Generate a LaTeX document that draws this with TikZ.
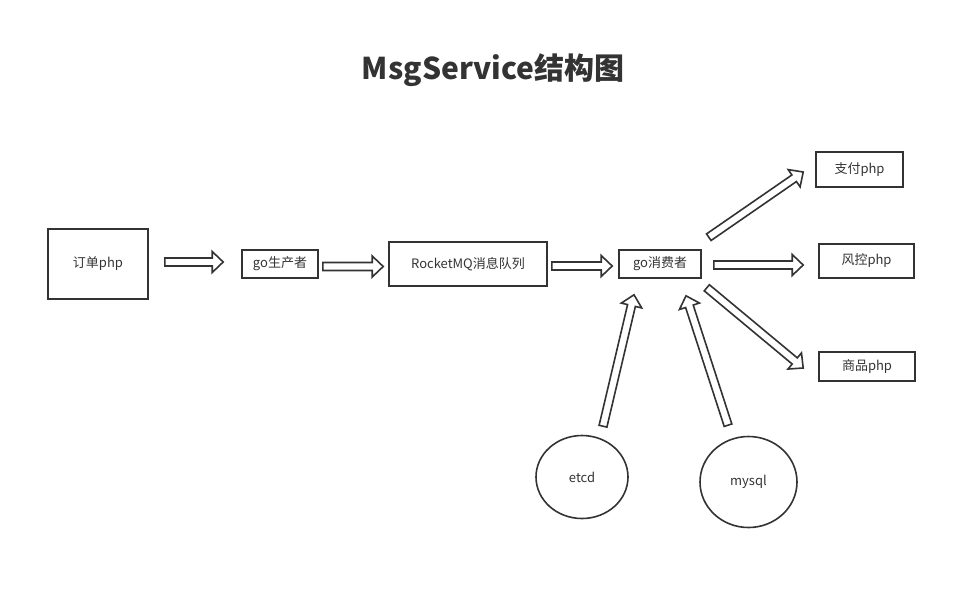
\documentclass[tikz,border=0pt]{standalone}
\usepackage{fontspec}
\setmainfont{Noto Sans CJK SC}
\usetikzlibrary{calc,shapes.geometric}
\definecolor{ink}{HTML}{333333}
\newcommand{\fatarrow}[2]{%
  \path #1 coordinate (fs) #2 coordinate (ft) ($(ft)!11pt!(fs)$) coordinate (fb);
  \draw[fat] ($(fs)!4pt!90:(ft)$) -- ($(fb)!4pt!90:(ft)$) -- ($(fb)!10.5pt!90:(ft)$) -- (ft)
    -- ($(fb)!10.5pt!-90:(ft)$) -- ($(fb)!4pt!-90:(ft)$) -- ($(fs)!4pt!-90:(ft)$) -- cycle;
}
\begin{document}
\begin{tikzpicture}[x = 1pt, y = -1pt,
            every node/.style = {text=ink, font=\fontsize{13}{15}\selectfont},
            box/.style = {draw=ink, line width=1.6pt, inner sep=0pt},
            store/.style = {ellipse, draw=ink, line width=1.6pt, inner sep=0pt},
            fat/.style = {draw=ink, line width=1.6pt, fill=white}]
            \useasboundingbox (0,0) rectangle (976,589);
            \node (title) at (493,70) {\fontsize{30}{35}\selectfont\bfseries MsgService结构图};
            % main line
            \node[box, minimum width=100, minimum height=70] (order) at (98,264) {订单php};
            \node[box, minimum width=76, minimum height=28] (prod) at (280,264) {go生产者};
            \node[box, minimum width=158, minimum height=44] (mq) at (468,264) {RocketMQ消息队列};
            \node[box, minimum width=82, minimum height=28] (cons) at (660,264) {go消费者};
            % consumers
            \node[box, minimum width=87, minimum height=35] (pay) at (859.5,169.5) {支付php};
            \node[box, minimum width=95, minimum height=34] (risk) at (866.5,261) {风控php};
            \node[box, minimum width=96, minimum height=29] (goods) at (867,366.5) {商品php};
            % config and data
            \node[store, minimum width=92, minimum height=83] (etcd) at (582,477) {etcd};
            \node[store, minimum width=97, minimum height=91] (mysql) at (748.5,482) {mysql};
            \fatarrow{($(order.east)+(16,-2)$)}{($(prod.west)+(-18,-2)$)}
            \fatarrow{($(prod.east)+(4,2.5)$)}{($(mq.west)+(-5,2.5)$)}
            \fatarrow{($(mq.east)+(4,2)$)}{($(cons.west)+(-6,2)$)}
            \fatarrow{($(cons.north east)+(7,-12)$)}{($(pay.west)+(-12,2.5)$)}
            \fatarrow{($(cons.east)+(12,1)$)}{($(risk.west)+(-15,4)$)}
            \fatarrow{($(cons.south east)+(5,9)$)}{($(goods.west)+(-15,1.5)$)}
            \fatarrow{($(etcd.north)+(21,-8.5)$)}{($(cons.south)+(-26,16)$)}
            \fatarrow{($(mysql.north)+(-20.5,-10.5)$)}{($(cons.south)+(26,17)$)}
        \end{tikzpicture}
\end{document}
